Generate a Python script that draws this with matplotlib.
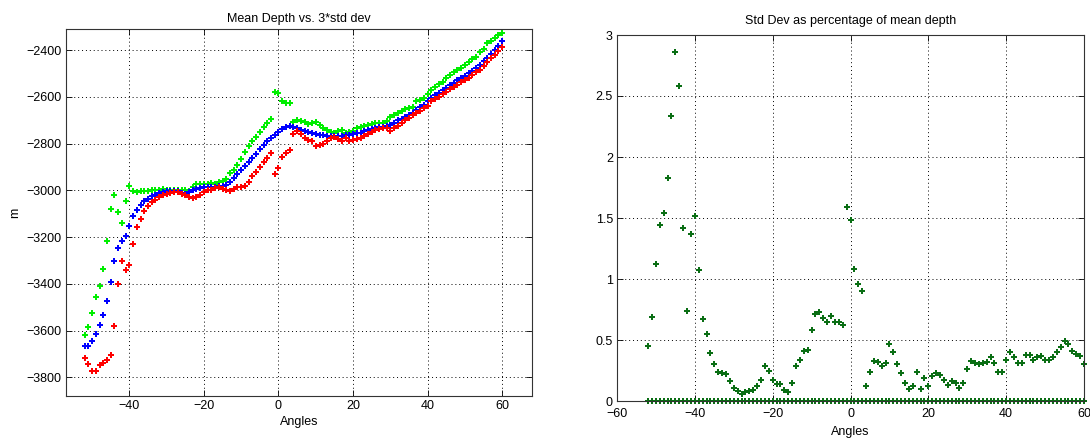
import numpy as np
import matplotlib
matplotlib.use("Agg")
import matplotlib.pyplot as plt

plt.rcParams['font.family'] = ['Liberation Sans', 'DejaVu Sans']

angles = list(range(-52, 61))

mean_depth = [
    -3666, -3666, -3646, -3615, -3578, -3535, -3472, -3391, -3302, -3245,
    -3219, -3195, -3152, -3112, -3085, -3065, -3047, -3037, -3025, -3018,
    -3012, -3008, -3005, -3003, -3003, -3005, -3010, -3014, -3008, -3000,
    -2995, -2990, -2988, -2986, -2985, -2985, -2983, -2980, -2976, -2965,
    -2948, -2932, -2915, -2898, -2880, -2860, -2845, -2825, -2805, -2790,
    -2778, -2765, -2750, -2738, -2730, -2727, -2728, -2733, -2740, -2747,
    -2752, -2757, -2760, -2762, -2764, -2766, -2767, -2768, -2768, -2767,
    -2765, -2763, -2760, -2757, -2753, -2748, -2743, -2738, -2734, -2731,
    -2729, -2727, -2720, -2711, -2700, -2693, -2687, -2680, -2668, -2657,
    -2645, -2635, -2620, -2605, -2592, -2582, -2572, -2562, -2551, -2541,
    -2530, -2520, -2510, -2500, -2490, -2478, -2462, -2447, -2432, -2416,
    -2400, -2383, -2363]

upper_3std = [
    -3618, -3585, -3523, -3455, -3409, -3335, -3217, -3078, -3018, -3093,
    -3142, -3047, -2982, -3005, -3008, -3005, -3005, -3003, -3000, -3000,
    -2998, -2996, -2998, -3000, -3000, -3000, -2998, -3000, -3002, -2985,
    -2974, -2972, -2971, -2971, -2970, -2971, -2966, -2960, -2950, -2928,
    -2912, -2890, -2864, -2835, -2810, -2790, -2771, -2750, -2730, -2710,
    -2693, -2578, -2583, -2618, -2625, -2628, -2707, -2700, -2703, -2707,
    -2718, -2710, -2707, -2721, -2735, -2740, -2750, -2754, -2748, -2740,
    -2757, -2750, -2745, -2735, -2730, -2726, -2720, -2716, -2714, -2712,
    -2711, -2705, -2686, -2677, -2669, -2660, -2654, -2648, -2643, -2620,
    -2614, -2607, -2590, -2570, -2556, -2545, -2536, -2520, -2507, -2496,
    -2486, -2475, -2464, -2450, -2440, -2430, -2410, -2395, -2371, -2360,
    -2350, -2335, -2328]

lower_3std = [
    -3716, -3742, -3771, -3771, -3748, -3738, -3728, -3706, -3581, -3401,
    -3302, -3342, -3318, -3231, -3157, -3124, -3088, -3067, -3052, -3040,
    -3028, -3021, -3014, -3011, -3009, -3009, -3014, -3020, -3028, -3035,
    -3030, -3021, -3007, -3000, -2997, -2990, -2988, -2995, -3000, -3004,
    -2995, -2988, -2985, -2982, -2965, -2940, -2920, -2900, -2880, -2860,
    -2842, -2931, -2905, -2857, -2840, -2826, -2760, -2745, -2760, -2775,
    -2785, -2790, -2812, -2808, -2800, -2790, -2778, -2772, -2780, -2788,
    -2778, -2788, -2785, -2780, -2776, -2768, -2758, -2750, -2743, -2738,
    -2735, -2735, -2745, -2735, -2726, -2712, -2700, -2692, -2680, -2670,
    -2660, -2650, -2640, -2620, -2610, -2603, -2590, -2580, -2568, -2557,
    -2548, -2538, -2528, -2518, -2505, -2495, -2485, -2470, -2450, -2435,
    -2422, -2405, -2388]

std_pct = [
    0.45, 0.69, 1.12, 1.44, 1.54, 1.83, 2.34, 2.86, 2.58, 1.42,
    0.74, 1.37, 1.52, 1.07, 0.67, 0.55, 0.39, 0.30, 0.24, 0.23,
    0.22, 0.16, 0.11, 0.08, 0.06, 0.07, 0.08, 0.09, 0.12, 0.17,
    0.29, 0.25, 0.17, 0.14, 0.14, 0.09, 0.07, 0.15, 0.29, 0.34,
    0.41, 0.42, 0.58, 0.71, 0.73, 0.68, 0.65, 0.70, 0.65, 0.65,
    0.62, 1.59, 1.48, 1.08, 0.96, 0.90, 0.125, 0.24, 0.33, 0.32,
    0.29, 0.31, 0.47, 0.40, 0.30, 0.23, 0.145, 0.10, 0.125, 0.24,
    0.095, 0.19, 0.125, 0.205, 0.23, 0.21, 0.17, 0.13, 0.16, 0.15,
    0.11, 0.145, 0.26, 0.33, 0.31, 0.30, 0.31, 0.32, 0.36, 0.31,
    0.24, 0.24, 0.335, 0.40, 0.36, 0.31, 0.31, 0.38, 0.38, 0.34,
    0.36, 0.37, 0.34, 0.34, 0.36, 0.40, 0.44, 0.49, 0.47, 0.41,
    0.385, 0.37, 0.30]

zero_line = [0.0] * len(angles)

W, H = 1090, 440
fig = plt.figure(figsize=(W / 100, H / 100), dpi=100)
ax1 = fig.add_axes([66 / W, 1 - 396 / H, (532 - 66) / W, (396 - 29) / H])
ax2 = fig.add_axes([617 / W, 1 - 401 / H, (1084 - 617) / W, (401 - 35) / H])

mk = dict(marker='P', linestyle='none', markersize=4.5, markeredgewidth=0)
ax1.plot(angles, upper_3std, color='#00ee00', **mk)
ax1.plot(angles, mean_depth, color='#0000ff', **mk)
ax1.plot(angles, lower_3std, color='#ff0000', **mk)
ax1.set_xlim(-57, 68)
ax1.set_ylim(-3880, -2310)
ax1.set_xticks([-40, -20, 0, 20, 40, 60])
ax1.set_yticks(list(range(-3800, -2399, 200)))
ax1.set_title('Mean Depth vs. 3*std dev', fontsize=9, pad=5)
ax1.set_xlabel('Angles', fontsize=9, labelpad=3)
ax1.set_ylabel('m', fontsize=9, labelpad=4)

ax2.plot(angles, zero_line, color='#0a6e14', clip_on=False, **mk)
ax2.plot(angles, std_pct, color='#0a6e14', clip_on=False, **mk)
ax2.set_xlim(-60, 60)
ax2.set_ylim(0, 3)
ax2.set_xticks([-60, -40, -20, 0, 20, 40, 60])
ax2.set_yticks([0, 0.5, 1, 1.5, 2, 2.5, 3])
ax2.set_yticklabels(['0', '0.5', '1', '1.5', '2', '2.5', '3'])
ax2.set_title('Std Dev as percentage of mean depth', fontsize=9, pad=8)
ax2.set_xlabel('Angles', fontsize=9, labelpad=4)

for ax in (ax1, ax2):
    ax.grid(True, linestyle=(0, (1, 3)), color='black', linewidth=0.7)
    ax.tick_params(direction='in', top=True, right=True, labelsize=9,
                   length=4, width=0.6, pad=3)
    for s in ax.spines.values():
        s.set_linewidth(0.8)
        s.set_color('#333333')
ax2.tick_params(axis='x', pad=5)

fig.savefig('out.png', dpi=100, facecolor='white')
